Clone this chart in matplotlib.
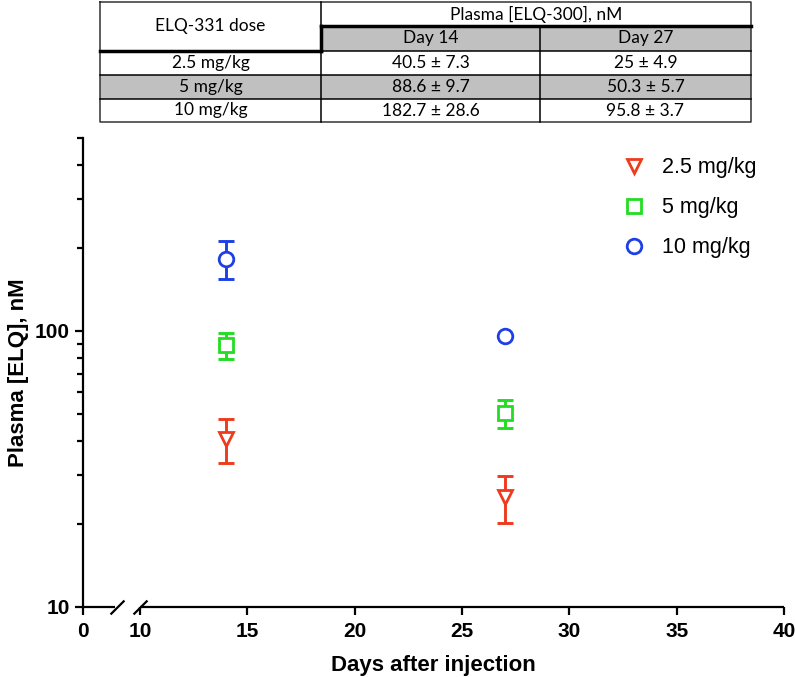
import matplotlib.pyplot as plt
import matplotlib.transforms as mtransforms
from matplotlib.lines import Line2D
from matplotlib.patches import Rectangle
from matplotlib.path import Path
import numpy as np

plt.rcParams['font.family'] = ['Liberation Sans', 'DejaVu Sans']

# Data (mean +/- SD, nM)
doses = ['2.5 mg/kg', '5 mg/kg', '10 mg/kg']
days = [14, 27]
day14_mean = [40.5, 88.6, 182.7]
day14_sd = [7.3, 9.7, 28.6]
day27_mean = [25, 50.3, 95.8]
day27_sd = [4.9, 5.7, 3.7]

colors = ['#EE3B1E', '#22DD22', '#1E3FE6']
markers = ['v', 's', 'o']
msizes = [10.5, 9.5, 10.5]

x_ticks = [0, 10, 15, 20, 25, 30, 35, 40]


# compressed x scale below 10 (axis break)
def fwd(x):
    x = np.asarray(x, dtype=float)
    return np.where(x < 10, x * 0.265, 2.65 + (x - 10))


def inv(u):
    u = np.asarray(u, dtype=float)
    return np.where(u < 2.65, u / 0.265, u - 2.65 + 10)


fig = plt.figure(figsize=(7.95, 6.77), dpi=100)
ax = fig.add_axes([83 / 795, 1 - 607 / 677, (784 - 83) / 795, (607 - 138) / 677])

ax.set_xscale('function', functions=(fwd, inv))
ax.set_yscale('log')
ax.set_xlim(0, 40)
ax.set_ylim(10, 500)

for i in range(len(doses)):
    means = np.array([day14_mean[i], day27_mean[i]])
    sds = np.array([day14_sd[i], day27_sd[i]])
    # error bars hidden behind the symbol are not drawn (as in Prism)
    show = np.log10((means + sds) / means) > 0.025
    ax.errorbar(np.array(days)[show], means[show], yerr=sds[show], fmt='none',
                ecolor=colors[i], elinewidth=2.1, capsize=6, capthick=2.1, zorder=2)
    ax.plot(days, means, linestyle='none', marker=markers[i], ms=msizes[i],
            mfc='white', mec=colors[i], mew=2.0, zorder=3)

# axes styling
for s in ['top', 'right', 'bottom']:
    ax.spines[s].set_visible(False)
ax.spines['left'].set_linewidth(1.6)

ax.set_xticks(x_ticks)
ax.set_xticklabels([str(t) for t in x_ticks])
ax.xaxis.set_minor_locator(plt.NullLocator())
ax.set_yticks([10, 100])
ax.set_yticklabels(['10', '100'])
ax.set_yticks([20, 30, 40, 50, 60, 70, 80, 90, 200, 300, 400, 500], minor=True)
ax.yaxis.set_minor_formatter(plt.NullFormatter())
ax.tick_params(axis='both', which='major', length=6, width=1.6, labelsize=15)
ax.tick_params(axis='x', which='major', pad=5)
ax.tick_params(axis='y', which='minor', length=4.5, width=1.6)
for lab in ax.get_xticklabels() + ax.get_yticklabels():
    lab.set_fontweight('bold')

# broken bottom axis
trans = mtransforms.blended_transform_factory(ax.transData, ax.transAxes)
ax.plot([0, 5.6], [0, 0], color='black', lw=1.6, transform=trans, clip_on=False,
        solid_capstyle='butt')
ax.plot([10, 40], [0, 0], color='black', lw=1.6, transform=trans, clip_on=False,
        solid_capstyle='butt')
slash = Path([(-1, -1), (1, 1)], [Path.MOVETO, Path.LINETO])
ax.plot([5.95, 10], [0, 0], linestyle='none', marker=slash, ms=10, mew=1.6,
        color='black', transform=trans, clip_on=False)

ax.set_xlabel('Days after injection', fontsize=16, fontweight='bold', labelpad=10)
ax.set_ylabel('Plasma [ELQ], nM', fontsize=16, fontweight='bold', labelpad=4)

# legend
handles = [Line2D([], [], linestyle='none', marker=markers[i], ms=msizes[i],
                  mfc='white', mec=colors[i], mew=2.0) for i in range(len(doses))]
ax.legend(handles, doses, loc='upper left', bbox_to_anchor=(0.728, 1.0),
          frameon=False, fontsize=15.5, labelspacing=0.88, handletextpad=0.3)

# table on top
tab = fig.add_axes([0, 0, 1, 1], zorder=5)
tab.set_xlim(0, 795)
tab.set_ylim(677, 0)
tab.axis('off')
tab.patch.set_alpha(0)

col_x = [100, 321, 540, 751]
row_y = [2, 26, 51, 75, 99, 122]
gray = '#C0C0C0'
tfont = dict(family=['Lato', 'DejaVu Sans'], fontsize=12.5, ha='center', va='center')

# gray fills
tab.add_patch(Rectangle((col_x[1], row_y[1]), col_x[3] - col_x[1], row_y[2] - row_y[1],
                        facecolor=gray, edgecolor='none'))
tab.add_patch(Rectangle((col_x[0], row_y[3]), col_x[3] - col_x[0], row_y[4] - row_y[3],
                        facecolor=gray, edgecolor='none'))

lw = 1.1
# outer border
tab.plot([col_x[0], col_x[3], col_x[3], col_x[0], col_x[0]],
         [row_y[0], row_y[0], row_y[5], row_y[5], row_y[0]], color='#333333', lw=lw)
# horizontal lines
tab.plot([col_x[1], col_x[3]], [row_y[1], row_y[1]], color='black', lw=2.5)
tab.plot([col_x[0], col_x[1]], [row_y[2], row_y[2]], color='black', lw=2.5)
tab.plot([col_x[1], col_x[3]], [row_y[2], row_y[2]], color='black', lw=lw)
for y in row_y[3:5]:
    tab.plot([col_x[0], col_x[3]], [y, y], color='black', lw=lw)
# vertical lines
tab.plot([col_x[1], col_x[1]], [row_y[0], row_y[5]], color='black', lw=lw)
tab.plot([col_x[1], col_x[1]], [row_y[1], row_y[2]], color='black', lw=2.5)
tab.plot([col_x[2], col_x[2]], [row_y[1], row_y[5]], color='black', lw=lw)

tab.text((col_x[0] + col_x[1]) / 2, (row_y[0] + row_y[2]) / 2, 'ELQ-331 dose', **tfont)
tab.text((col_x[1] + col_x[3]) / 2, (row_y[0] + row_y[1]) / 2, 'Plasma [ELQ-300], nM', **tfont)
for j, d in enumerate(days):
    tab.text((col_x[1 + j] + col_x[2 + j]) / 2, (row_y[1] + row_y[2]) / 2, f'Day {d}', **tfont)
for i, dose in enumerate(doses):
    yc = (row_y[2 + i] + row_y[3 + i]) / 2
    tab.text((col_x[0] + col_x[1]) / 2, yc, dose, **tfont)
    tab.text((col_x[1] + col_x[2]) / 2, yc, f'{day14_mean[i]:g} ± {day14_sd[i]:g}', **tfont)
    tab.text((col_x[2] + col_x[3]) / 2, yc, f'{day27_mean[i]:g} ± {day27_sd[i]:g}', **tfont)

fig.savefig('out.png', dpi=100)
